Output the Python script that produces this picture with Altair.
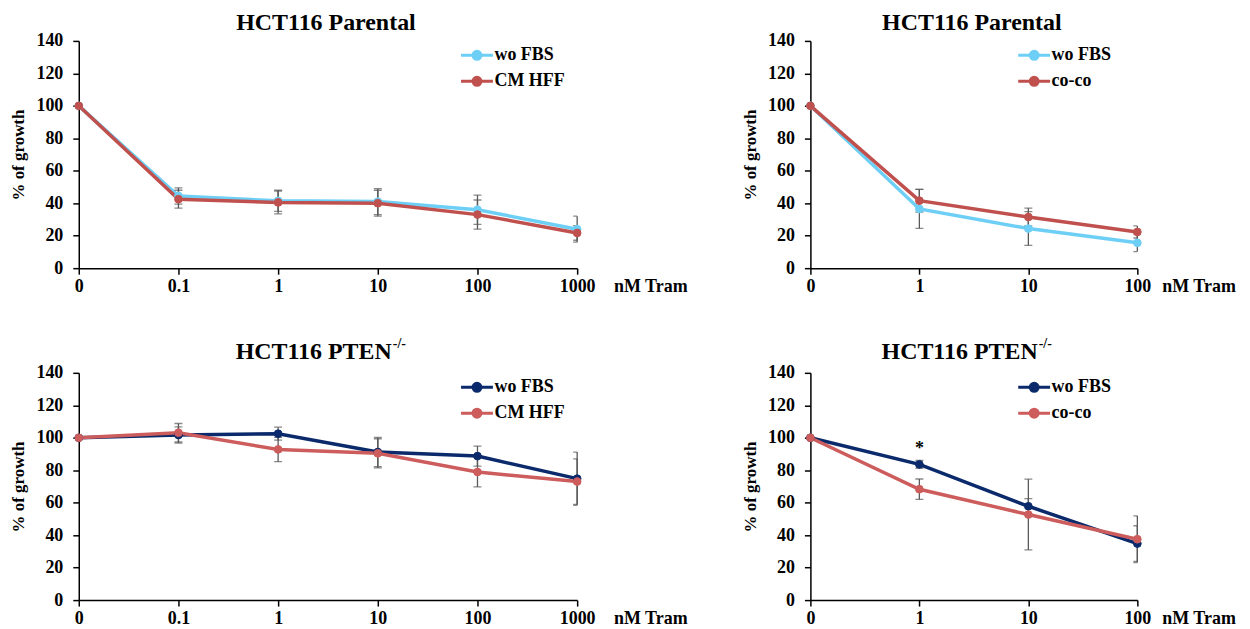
import altair as alt
import pandas as pd

FONT = "Liberation Serif"
LIGHT_BLUE = "#6DCFF6"
RED_TOP = "#C0504D"
NAVY = "#0B2A6B"
RED_BOT = "#CD5C5C"
ERR = "#595959"

x_a = ["0", "0.1", "1", "10", "100", "1000"]
x_b = ["0", "1", "10", "100"]

# Panel 1: HCT116 Parental, wo FBS vs CM HFF
p1_wo = [100, 44.5, 41.5, 41.0, 36.0, 24.0]
p1_wo_err = [0, 5.0, 6.5, 8.0, 9.0, 8.0]
p1_cm = [100, 42.5, 40.5, 40.0, 33.0, 21.7]
p1_cm_err = [0, 5.5, 7.0, 8.0, 9.0, 4.5]

# Panel 2: HCT116 Parental, wo FBS vs co-co
p2_wo = [100, 36.5, 24.4, 15.6]
p2_wo_err = [0, 12.0, 10.4, 5.4]
p2_co = [100, 41.6, 31.5, 22.3]
p2_co_err = [0, 7.0, 5.5, 3.7]

# Panel 3: HCT116 PTEN-/-, wo FBS vs CM HFF
p3_wo = [100, 101.7, 102.5, 91.2, 88.7, 74.8]
p3_wo_err = [0, 5.0, 4.0, 9.0, 6.2, 16.4]
p3_cm = [100, 103.1, 92.8, 90.4, 78.9, 73.0]
p3_cm_err = [0, 5.7, 7.5, 9.0, 9.2, 14.0]

# Panel 4: HCT116 PTEN-/-, wo FBS vs co-co
p4_wo = [100, 83.6, 57.8, 34.8]
p4_wo_err = [0, 2.5, 4.7, 11.0]
p4_co = [100, 68.3, 52.7, 37.5]
p4_co_err = [0, 6.3, 21.8, 14.4]

y_ticks = [0, 20, 40, 60, 80, 100, 120, 140]

# legend glyph: line with a dot, wider than the unit box so the row stays compact
LEGEND_PATH = ("M-1.23,0H1.23M-0.31,0A0.31,0.31,0,1,1,0.31,0"
               "A0.31,0.31,0,1,1,-0.31,0Z")


def panel(xs, names, vals, errs, colors, width, title_main, title_sup=None,
          star=None, tram_dx=25, leg_dx=0):
    height = 228
    rows = []
    for name, v, e in zip(names, vals, errs):
        for d, vv, ee in zip(xs, v, e):
            rows.append({"dose": d, "series": name, "value": vv, "err": ee,
                         "lo": vv - ee, "hi": vv + ee})
    df = pd.DataFrame(rows)
    edf = df[df["err"] > 0]

    xaxis = alt.Axis(title=None, labelAngle=0, labelPadding=3, tickSize=6)
    yaxis = alt.Axis(title="% of growth", values=y_ticks, labelPadding=10,
                     titlePadding=8, tickSize=6)
    xs_scale = alt.Scale(domain=xs, type="point", padding=0)
    ys_scale = alt.Scale(domain=[0, 140], nice=False)

    def X():
        return alt.X("dose:N", sort=xs, scale=xs_scale, axis=xaxis)

    def Y(f):
        return alt.Y(f + ":Q", scale=ys_scale, axis=yaxis)

    cscale = alt.Scale(domain=names, range=colors)
    leg = alt.Legend(title=None, orient="none", legendX=leg_dx,
                     legendY=0, symbolType=LEGEND_PATH, symbolSize=676,
                     symbolStrokeWidth=3, labelFont=FONT, labelFontSize=18,
                     labelFontWeight="bold", labelColor="black", rowPadding=1,
                     labelOffset=3)

    base = alt.Chart(df)
    lines = base.mark_line(strokeWidth=3.5).encode(
        x=X(), y=Y("value"),
        color=alt.Color("series:N", scale=cscale, legend=None),
        detail="series:N")
    rule = alt.Chart(edf).mark_rule(color=ERR, strokeWidth=1.3).encode(
        x=X(), y=Y("lo"), y2="hi")
    cap_lo = alt.Chart(edf).mark_tick(color=ERR, size=8, thickness=1.3, clip=True).encode(
        x=X(), y=Y("lo"))
    cap_hi = alt.Chart(edf).mark_tick(color=ERR, size=8, thickness=1.3, clip=True).encode(
        x=X(), y=Y("hi"))
    pts = base.mark_point(filled=True, size=60, strokeWidth=1, opacity=1).encode(
        x=X(), y=Y("value"),
        fill=alt.Fill("series:N", scale=cscale, legend=leg),
        stroke=alt.Stroke("series:N", scale=cscale, legend=leg))

    layers = [lines, rule, cap_lo, cap_hi, pts]

    tram = alt.Chart(pd.DataFrame({"t": ["nM Tram"]})).mark_text(
        font=FONT, fontSize=18, fontWeight="bold", align="left",
        baseline="alphabetic", color="black").encode(
        text="t:N", x=alt.value(width + tram_dx), y=alt.value(height + 24))
    layers.append(tram)

    if title_sup is None:
        t = alt.Chart(pd.DataFrame({"t": [title_main]})).mark_text(
            font=FONT, fontSize=24, fontWeight="bold", align="center",
            baseline="alphabetic", color="black").encode(
            text="t:N", x=alt.value(width / 2 - 2), y=alt.value(-11))
        layers.append(t)
    else:
        t = alt.Chart(pd.DataFrame({"t": [title_main]})).mark_text(
            font=FONT, fontSize=24, fontWeight="bold", align="right",
            baseline="alphabetic", color="black").encode(
            text="t:N", x=alt.value(width / 2 + 64), y=alt.value(-14))
        s = alt.Chart(pd.DataFrame({"t": [title_sup]})).mark_text(
            font=FONT, fontSize=14, fontWeight="bold", align="left",
            baseline="alphabetic", color="black").encode(
            text="t:N", x=alt.value(width / 2 + 65), y=alt.value(-25))
        layers += [t, s]

    if star is not None:
        sdf = pd.DataFrame({"dose": [star[0]], "value": [star[1]], "t": ["*"]})
        st = alt.Chart(sdf).mark_text(
            font=FONT, fontSize=18, fontWeight="bold", baseline="alphabetic",
            color="black").encode(x=X(), y=Y("value"), text="t:N")
        layers.append(st)

    return alt.layer(*layers).properties(width=width, height=height).resolve_scale(
        color="independent", fill="independent", stroke="independent")


c1 = panel(x_a, ["wo FBS", "CM HFF"], [p1_wo, p1_cm], [p1_wo_err, p1_cm_err],
           [LIGHT_BLUE, RED_TOP], 500, "HCT116 Parental", tram_dx=37, leg_dx=385)
c2 = panel(x_b, ["wo FBS", "co-co"], [p2_wo, p2_co], [p2_wo_err, p2_co_err],
           [LIGHT_BLUE, RED_TOP], 328, "HCT116 Parental", tram_dx=25, leg_dx=210)
c3 = panel(x_a, ["wo FBS", "CM HFF"], [p3_wo, p3_cm], [p3_wo_err, p3_cm_err],
           [NAVY, RED_BOT], 500, "HCT116 PTEN", "-/-", tram_dx=37, leg_dx=385)
c4 = panel(x_b, ["wo FBS", "co-co"], [p4_wo, p4_co], [p4_wo_err, p4_co_err],
           [NAVY, RED_BOT], 328, "HCT116 PTEN", "-/-", star=("1", 90), tram_dx=25,
           leg_dx=210)

chart = alt.concat(c1, c2, c3, c4, columns=2,
                   spacing={"row": 105, "column": 234}, bounds="flush").resolve_scale(
    color="independent", fill="independent", stroke="independent", x="independent",
    y="independent").properties(
    padding={"left": 2, "top": 2, "right": 5, "bottom": 5}, background="white"
).configure_view(stroke=None).configure_axis(
    domainColor="black", tickColor="black", domainWidth=1.5, tickWidth=1.5,
    labelFont=FONT, labelFontSize=18, labelFontWeight="bold", labelColor="black",
    titleFont=FONT, titleFontSize=17, titleFontWeight="bold", titleColor="black",
    grid=False
)

chart.save("out.html", embed_options={"renderer": "svg", "actions": False})
